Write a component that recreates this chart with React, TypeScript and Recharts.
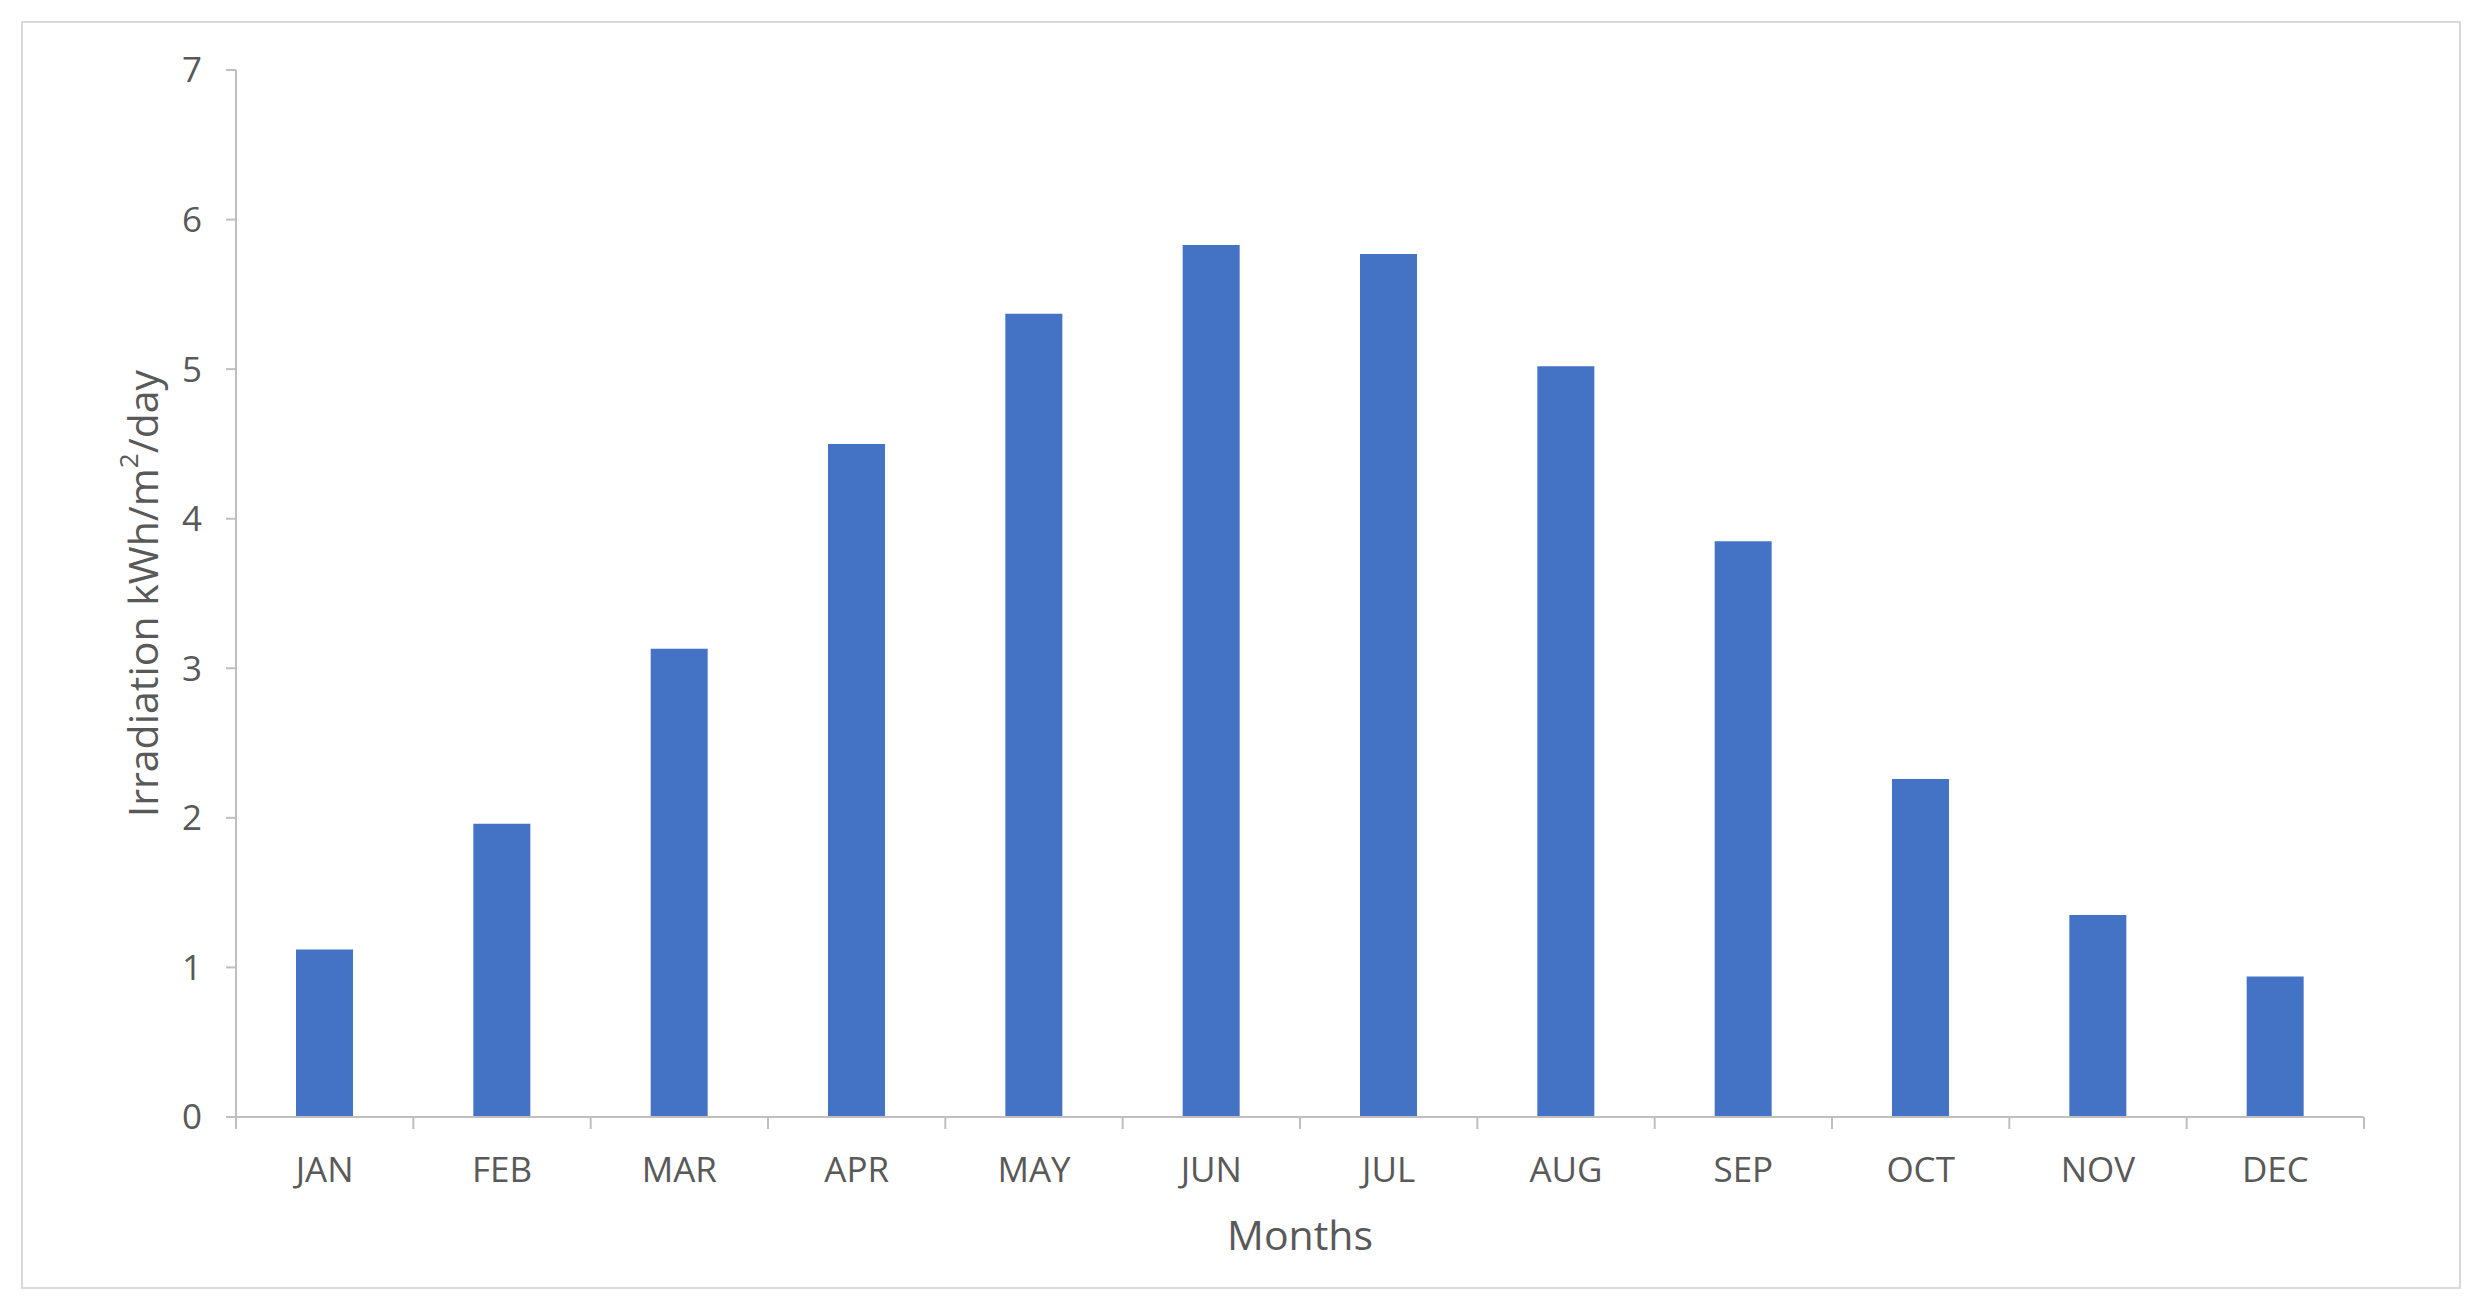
import { BarChart, Bar, XAxis, YAxis } from "recharts";

const months = ["JAN", "FEB", "MAR", "APR", "MAY", "JUN", "JUL", "AUG", "SEP", "OCT", "NOV", "DEC"];
const irradiation = [1.12, 1.96, 3.13, 4.5, 5.37, 5.83, 5.77, 5.02, 3.85, 2.26, 1.35, 0.94];
const yTicks = [0, 1, 2, 3, 4, 5, 6, 7];

const data = months.map((m, i) => ({ month: m, value: irradiation[i] }));

const FONT = "'Open Sans', 'Noto Sans', sans-serif";
const TEXT = "#595959";
const AXIS = "#bfbfbf";

// Excel-style category ticks: marks sit on the band edges, labels in the middle
function MonthTick(props: any) {
  const { x, y, payload, index } = props;
  const half = payload?.offset || 88.7;
  return (
    <g>
      <line x1={x - half} y1={y} x2={x - half} y2={y + 12} stroke={AXIS} strokeWidth={2} />
      {index === months.length - 1 && (
        <line x1={x + half} y1={y} x2={x + half} y2={y + 12} stroke={AXIS} strokeWidth={2} />
      )}
      <text x={x} y={y + 65} textAnchor="middle" fill={TEXT} fontSize={35} fontFamily={FONT}>
        {payload.value}
      </text>
    </g>
  );
}

export default function App() {
  return (
    <div style={{ position: "absolute", left: 0, top: 0, width: 2480, height: 1313, background: "#fff" }}>
      <div
        style={{
          position: "absolute",
          left: 21,
          top: 21,
          width: 2440,
          height: 1268,
          border: "2px solid #d9d9d9",
          boxSizing: "border-box",
        }}
      />
      <div style={{ position: "absolute", left: 0, top: 0 }}>
        <BarChart width={2480} height={1313} data={data} margin={{ top: 70, right: 116, left: 0, bottom: 0 }}>
          <XAxis
            dataKey="month"
            height={196}
            tickLine={false}
            tickSize={0}
            tickMargin={0}
            axisLine={{ stroke: AXIS, strokeWidth: 2 }}
            tick={<MonthTick />}
            interval={0}
            label={{
              content: ({ viewBox }: any) => (
                <text
                  x={viewBox.x + viewBox.width / 2}
                  y={viewBox.y + 133}
                  textAnchor="middle"
                  fill={TEXT}
                  fontSize={41}
                  fontFamily={FONT}
                >
                  Months
                </text>
              ),
            }}
          />
          <YAxis
            width={236}
            domain={[0, 7]}
            ticks={yTicks}
            interval={0}
            tickSize={10}
            tickMargin={24}
            tickLine={{ stroke: AXIS, strokeWidth: 2 }}
            axisLine={{ stroke: AXIS, strokeWidth: 2 }}
            tick={{ fill: TEXT, fontSize: 35, fontFamily: FONT }}
            label={{
              content: ({ viewBox }: any) => {
                const cx = viewBox.x + 142;
                const cy = viewBox.y + viewBox.height / 2;
                return (
                  <text
                    x={cx}
                    y={cy}
                    transform={`rotate(-90, ${cx}, ${cy})`}
                    textAnchor="middle"
                    dominantBaseline="central"
                    fill={TEXT}
                    fontSize={41}
                    fontFamily={FONT}
                  >
                    Irradiation kWh/m<tspan fontSize={26} dy={-14}>2</tspan>
                    <tspan dy={14}>/day</tspan>
                  </text>
                );
              },
            }}
          />
          <Bar dataKey="value" fill="#4472C4" barSize={57} isAnimationActive={false} />
        </BarChart>
      </div>
    </div>
  );
}
